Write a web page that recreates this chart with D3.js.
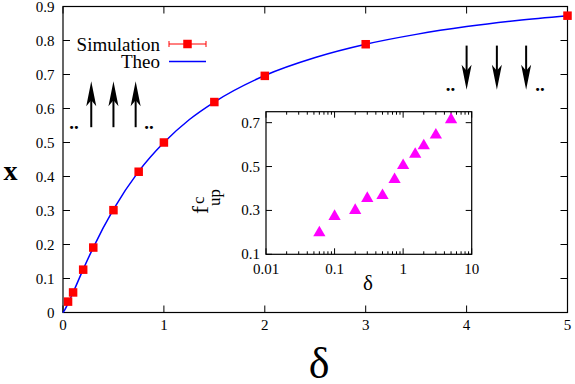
<!DOCTYPE html>
<html>
<head>
<meta charset="utf-8">
<script src="https://cdn.jsdelivr.net/npm/d3@7"></script>
<style>
  body { margin: 0; background: #fff; }
  svg text { font-family: "Liberation Serif", "Times New Roman", serif; fill: #000; }
</style>
</head>
<body>
<div id="chart"></div>
<script>
// Simulation points (main plot)
var simDelta = [0.05, 0.1, 0.2, 0.3, 0.5, 0.75, 1, 1.5, 2, 3, 5];
var simX = [0.032, 0.059, 0.126, 0.191, 0.301, 0.414, 0.5, 0.619, 0.696, 0.789, 0.873];

// Theory curve
var theoDelta = [0, 0.01, 0.02, 0.05, 0.1, 0.2, 0.3, 0.5, 0.75, 1, 1.25, 1.5, 2, 2.5, 3, 3.5, 4, 4.5, 5];
var theoX = [0, 0.004, 0.009, 0.027, 0.059, 0.127, 0.191, 0.303, 0.415, 0.5, 0.567, 0.619, 0.697, 0.75, 0.789, 0.818, 0.841, 0.859, 0.873];

// Inset: critical f_up vs delta
var insetDelta = [0.06, 0.1, 0.2, 0.3, 0.5, 0.75, 1, 1.5, 2, 3, 5];
var insetF = [0.198, 0.273, 0.3, 0.355, 0.368, 0.441, 0.505, 0.556, 0.595, 0.644, 0.714];

// Tick labels
var xTicks = [0, 1, 2, 3, 4, 5];
var yTicks = [0, 0.1, 0.2, 0.3, 0.4, 0.5, 0.6, 0.7, 0.8, 0.9];
var insetXTicks = [0.01, 0.1, 1, 10];
var insetYTicks = [0.1, 0.3, 0.5, 0.7];

// Arrow annotations (data coords of main plot)
var upArrowsX = [0.28, 0.5, 0.72];
var downArrowsX = [4.0, 4.3, 4.59];

var W = 575, H = 384;

var svg = d3.select("#chart")
    .append("svg")
    .attr("width", W)
    .attr("height", H);

// Main plot area
var main = { left: 63, right: 567.5, top: 6.5, bottom: 312.5 };

var x = d3.scaleLinear().domain([0, 5]).range([main.left, main.right]);
var y = d3.scaleLinear().domain([0, 0.9]).range([main.bottom, main.top]);

// ticks (inward, mirrored)
var tickLen = 7;
var g = svg.append("g");

g.selectAll(".xt").data(xTicks).enter().append("path")
    .attr("d", function (d) {
        return "M" + x(d) + "," + main.bottom + "v" + (-tickLen) +
            "M" + x(d) + "," + main.top + "v" + tickLen;
    })
    .attr("stroke", "#000").attr("stroke-width", 1);

g.selectAll(".yt").data(yTicks).enter().append("path")
    .attr("d", function (d) {
        return "M" + main.left + "," + y(d) + "h" + tickLen +
            "M" + main.right + "," + y(d) + "h" + (-tickLen);
    })
    .attr("stroke", "#000").attr("stroke-width", 1);

g.selectAll(".xl").data(xTicks).enter().append("text")
    .attr("x", function (d) { return x(d); })
    .attr("y", 330)
    .attr("text-anchor", "middle")
    .style("font-size", "15px")
    .text(function (d) { return d; });

g.selectAll(".yl").data(yTicks).enter().append("text")
    .attr("x", 54.5)
    .attr("y", function (d) { return y(d) + 5; })
    .attr("text-anchor", "end")
    .style("font-size", "15px")
    .text(function (d) { return d === 0 ? "0" : d3.format(".1f")(d); });

// border
g.append("rect")
    .attr("x", main.left).attr("y", main.top)
    .attr("width", main.right - main.left).attr("height", main.bottom - main.top)
    .attr("fill", "none").attr("stroke", "#000").attr("stroke-width", 1.2);

// axis labels
svg.append("text")
    .attr("x", 10.5).attr("y", 180)
    .attr("text-anchor", "middle")
    .style("font-size", "28px")
    .style("font-weight", "bold")
    .text("x");

svg.append("text")
    .attr("x", 319).attr("y", 378)
    .attr("text-anchor", "middle")
    .style("font-size", "44px")
    .text("δ");

// theory line
var line = d3.line()
    .x(function (d) { return x(d[0]); })
    .y(function (d) { return y(d[1]); })
    .curve(d3.curveMonotoneX);

svg.append("path")
    .datum(d3.zip(theoDelta, theoX))
    .attr("d", line)
    .attr("fill", "none")
    .attr("stroke", "#0000ff")
    .attr("stroke-width", 1.5);

// simulation squares
var sq = 8.5;
svg.selectAll(".sim").data(d3.zip(simDelta, simX)).enter().append("rect")
    .attr("x", function (d) { return x(d[0]) - sq / 2; })
    .attr("y", function (d) { return y(d[1]) - sq / 2; })
    .attr("width", sq).attr("height", sq)
    .attr("fill", "#ff0000");

// legend
var legend = svg.append("g");
legend.append("text").attr("x", 160).attr("y", 50.5)
    .attr("text-anchor", "end").style("font-size", "19px").text("Simulation");
legend.append("text").attr("x", 160).attr("y", 68)
    .attr("text-anchor", "end").style("font-size", "19px").text("Theo");
legend.append("path")
    .attr("d", "M169,44h37M169,41v6M206,41v6")
    .attr("stroke", "#ff0000").attr("stroke-width", 1);
legend.append("rect")
    .attr("x", 187.5 - sq / 2).attr("y", 44 - sq / 2)
    .attr("width", sq).attr("height", sq).attr("fill", "#ff0000");
legend.append("path")
    .attr("d", "M169,61.5h37")
    .attr("stroke", "#0000ff").attr("stroke-width", 1.5);

// arrows
function arrow(x0, y0, x1, y1) {
    var px = x(x0), py0 = y(y0), py1 = y(y1);
    var dir = py1 < py0 ? 1 : -1;   // 1 = pointing up
    var headLen = 25, headW = 5, notch = 6;
    svg.append("line")
        .attr("x1", px).attr("y1", py0)
        .attr("x2", px).attr("y2", py1 + dir * headLen * 0.7)
        .attr("stroke", "#000").attr("stroke-width", 2);
    svg.append("path")
        .attr("d", "M" + px + "," + py1 +
            "L" + (px - headW) + "," + (py1 + dir * headLen) +
            "L" + px + "," + (py1 + dir * (headLen - notch)) +
            "L" + (px + headW) + "," + (py1 + dir * headLen) + "Z")
        .attr("fill", "#000");
}
upArrowsX.forEach(function (d) { arrow(d, 0.545, d, 0.68); });
downArrowsX.forEach(function (d) { arrow(d, 0.785, d, 0.655); });

// ".." markers next to arrows
var dots = [[0.109, 0.549], [0.852, 0.549], [3.84, 0.66], [4.727, 0.66]];
svg.selectAll(".dots").data(dots).enter().append("text")
    .attr("x", function (d) { return x(d[0]); })
    .attr("y", function (d) { return y(d[1]) + 3; })
    .attr("text-anchor", "middle")
    .style("font-size", "19px")
    .style("font-weight", "bold")
    .text("..");

// ---- Inset ----
var ins = { left: 266, right: 471.7, top: 111.7, bottom: 254.3 };
var ix = d3.scaleLog().domain([0.01, 10]).range([ins.left, ins.right]);
var iy = d3.scaleLinear().domain([0.1, 0.75]).range([ins.bottom, ins.top]);

var ig = svg.append("g");

// minor + major log ticks top and bottom
var logTicks = [];
[0.01, 0.1, 1].forEach(function (dec) {
    for (var k = 1; k <= 9; k++) logTicks.push(dec * k);
});
logTicks.push(10);

ig.selectAll(".ixt").data(logTicks).enter().append("path")
    .attr("d", function (d) {
        var major = insetXTicks.some(function (t) { return Math.abs(t - d) < 1e-9; });
        var l = major ? 6 : 3;
        return "M" + ix(d) + "," + ins.bottom + "v" + (-l) +
            "M" + ix(d) + "," + ins.top + "v" + l;
    })
    .attr("stroke", "#000").attr("stroke-width", 1);

ig.selectAll(".iyt").data(insetYTicks).enter().append("path")
    .attr("d", function (d) {
        return "M" + ins.left + "," + iy(d) + "h6" +
            "M" + ins.right + "," + iy(d) + "h-6";
    })
    .attr("stroke", "#000").attr("stroke-width", 1);

ig.append("rect")
    .attr("x", ins.left).attr("y", ins.top)
    .attr("width", ins.right - ins.left).attr("height", ins.bottom - ins.top)
    .attr("fill", "none").attr("stroke", "#000").attr("stroke-width", 1.2);

ig.selectAll(".ixl").data(insetXTicks).enter().append("text")
    .attr("x", function (d) { return ix(d); })
    .attr("y", 274)
    .attr("text-anchor", "middle")
    .style("font-size", "15px")
    .text(function (d) { return d; });

ig.selectAll(".iyl").data(insetYTicks).enter().append("text")
    .attr("x", 260)
    .attr("y", function (d) { return iy(d) + 5; })
    .attr("text-anchor", "end")
    .style("font-size", "15px")
    .text(function (d) { return d3.format(".1f")(d); });

// inset axis labels
ig.append("text")
    .attr("x", 368).attr("y", 290)
    .attr("text-anchor", "middle")
    .style("font-size", "21px")
    .text("δ");

var yl = ig.append("g").attr("transform", "translate(208,214) rotate(-90)");
var fText = yl.append("text").attr("x", 0).attr("y", 0)
    .style("font-size", "24px").text("f");
var fw = fText.node().getComputedTextLength();
yl.append("text").attr("x", fw).attr("y", 12)
    .style("font-size", "17px").text("up");
yl.append("text").attr("x", fw + 2).attr("y", -4)
    .style("font-size", "17px").text("c");

// triangles
ig.selectAll(".tri").data(d3.zip(insetDelta, insetF)).enter().append("path")
    .attr("d", d3.symbol().type(d3.symbolTriangle).size(65))
    .attr("transform", function (d) {
        return "translate(" + ix(d[0]) + "," + iy(d[1]) + ")";
    })
    .attr("fill", "#ff00ff");
</script>
</body>
</html>
